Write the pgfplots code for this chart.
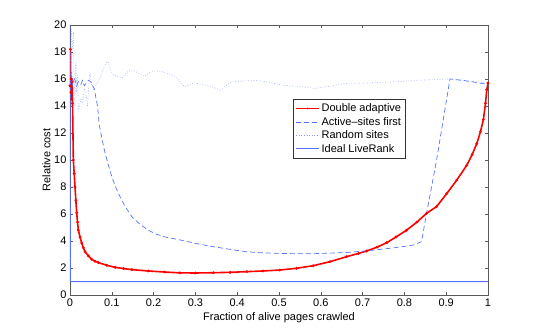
\documentclass[border=0pt]{standalone}
\usepackage{pgfplots}
\pgfplotsset{compat=1.18}
\usepackage{fontspec}
\setmainfont{Liberation Sans}

\definecolor{mred}{RGB}{255,0,0}
\definecolor{mblue}{RGB}{85,115,255}
\definecolor{mdot}{RGB}{130,155,255}

\begin{document}
\begin{tikzpicture}
\begin{axis}[
  at={(0pt,0pt)}, anchor=south west,
  scale only axis,
  width=418pt, height=270pt,
  xmin=0, xmax=1, ymin=0, ymax=20,
  xtick={0,0.1,...,1},
  ytick={0,2,...,20},
  xticklabels={0,0.1,0.2,0.3,0.4,0.5,0.6,0.7,0.8,0.9,1},
  tick align=inside,
  tick style={gray!70!black, line width=0.4pt},
  major tick length=3pt,
  axis line style={gray!70!black, line width=0.6pt},
  font=\fontsize{11}{13}\selectfont,
  tick label style={font=\fontsize{11}{13}\selectfont},
  /pgf/number format/assume math mode=true,
  xlabel={Fraction of alive pages crawled},
  ylabel={Relative cost},
  xlabel style={yshift=1pt},
  ylabel style={yshift=-3pt},
  legend style={
    at={(0.5335,0.726)}, anchor=north west,
    draw=black!80, line width=0.5pt,
    font=\fontsize{11}{12}\selectfont,
    row sep=0pt, inner sep=2.5pt,
    legend cell align=left,
  },
  legend image post style={line width=0.8pt, xscale=1.35},
]

% Double adaptive
\addplot[color=mred, line width=1.6pt, mark=*, mark size=0.45pt] coordinates {
  (0.000,15.5) (0.001,18.2) (0.002,15.0) (0.003,16.0) (0.004,14.5)
  (0.005,15.8) (0.006,14.2) (0.008,10.0) (0.010,9.0) (0.012,8.0)
  (0.014,7.0) (0.016,6.1) (0.018,5.4) (0.020,4.8) (0.024,4.3)
  (0.028,3.85) (0.032,3.5) (0.036,3.2) (0.044,2.9) (0.052,2.64)
  (0.060,2.5) (0.068,2.4) (0.088,2.2) (0.108,2.05) (0.128,1.96)
  (0.148,1.88) (0.187,1.78) (0.227,1.70) (0.263,1.64) (0.300,1.63)
  (0.343,1.65) (0.383,1.68) (0.423,1.73) (0.462,1.78) (0.502,1.85)
  (0.542,1.98) (0.582,2.17) (0.622,2.47) (0.662,2.84) (0.690,3.08)
  (0.710,3.26) (0.735,3.55) (0.758,3.88) (0.780,4.3) (0.805,4.8)
  (0.830,5.4) (0.853,6.05) (0.877,6.55) (0.901,7.5) (0.925,8.5)
  (0.949,9.6) (0.962,10.4) (0.973,11.2) (0.982,12.1) (0.989,13.0)
  (0.994,14.2) (0.997,15.2) (1.000,15.7)
};
\addlegendentry{Double adaptive}

% Active-sites first
\addplot[color=mblue, line width=0.7pt, dash pattern=on 5pt off 3pt] coordinates {
  (0.000,15.0) (0.003,16.5) (0.006,15.6) (0.009,16.1) (0.012,15.9)
  (0.016,15.5) (0.020,15.8) (0.026,15.6) (0.030,15.9) (0.034,15.5)
  (0.038,15.65) (0.044,15.9) (0.050,15.8) (0.054,15.5) (0.058,15.3)
  (0.062,14.6) (0.066,14.0) (0.070,12.6) (0.077,11.5) (0.084,10.5)
  (0.092,9.6) (0.100,8.77) (0.108,8.1) (0.116,7.5) (0.132,6.55)
  (0.148,5.8) (0.167,5.25) (0.187,4.8) (0.207,4.5) (0.227,4.3)
  (0.263,4.08) (0.300,3.82) (0.343,3.58) (0.383,3.38) (0.423,3.2)
  (0.462,3.12) (0.502,3.08) (0.542,3.06) (0.582,3.06) (0.622,3.1)
  (0.662,3.15) (0.702,3.25) (0.742,3.38) (0.782,3.52) (0.821,3.7)
  (0.841,3.95) (0.853,6.05) (0.865,8.0) (0.877,10.0) (0.893,13.0)
  (0.909,16.0) (0.925,15.95) (0.940,15.9) (0.970,15.75) (1.000,15.6)
};
\addlegendentry{Active--sites first}

% Random sites
\addplot[color=mdot, line width=0.6pt, dotted] coordinates {
  (0.000,16.0) (0.003,19.7) (0.005,18.2) (0.008,19.5) (0.010,16.0)
  (0.012,14.0) (0.014,17.3) (0.016,15.0) (0.018,16.3) (0.020,13.6)
  (0.022,14.0) (0.026,14.5) (0.030,14.2) (0.034,15.3) (0.038,15.0)
  (0.042,14.0) (0.045,15.5) (0.048,16.5) (0.051,15.6) (0.054,15.3)
  (0.058,15.2) (0.062,15.5) (0.068,15.9) (0.074,16.3) (0.080,16.8)
  (0.086,17.2) (0.090,17.3) (0.094,17.0) (0.098,16.6) (0.104,16.3)
  (0.114,16.2) (0.124,16.05) (0.134,16.4) (0.144,16.7) (0.160,16.5)
  (0.170,16.3) (0.179,16.2) (0.187,16.4) (0.195,16.55) (0.207,16.6)
  (0.219,16.55) (0.235,16.4) (0.251,16.2) (0.263,15.8) (0.275,15.4)
  (0.287,15.6) (0.299,15.7) (0.315,15.6) (0.331,15.5) (0.345,15.35)
  (0.359,15.2) (0.373,15.5) (0.387,15.8) (0.417,15.85) (0.447,15.9)
  (0.476,15.75) (0.506,15.55) (0.546,15.45) (0.586,15.3) (0.626,15.5)
  (0.666,15.7) (0.706,15.7) (0.746,15.75) (0.786,15.8) (0.825,15.9)
  (0.865,15.95) (0.905,16.0) (0.945,15.85) (0.975,15.8) (1.000,15.7)
};
\addlegendentry{Random sites}

% Ideal LiveRank
\addplot[color=mblue, line width=1pt] coordinates {
  (0.000,20.0) (0.000,15.0) (0.001,1.0) (1.000,1.0)
};
\addlegendentry{Ideal LiveRank}

\end{axis}
\path[use as bounding box] (-70pt,-37pt) rectangle (470pt,295pt);
\end{tikzpicture}
\end{document}
